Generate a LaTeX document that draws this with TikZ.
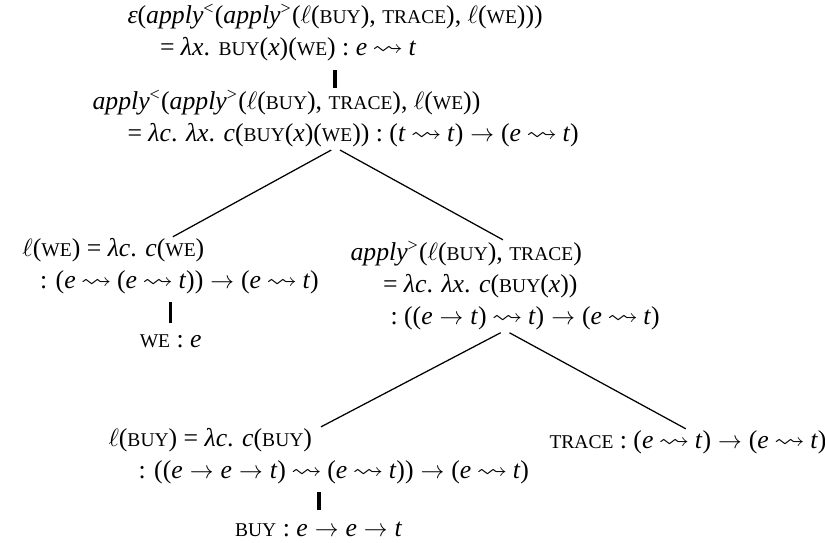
\documentclass[tikz,border=0pt]{standalone}
\usepackage{amssymb}
\usepackage{fontspec}
\setmainfont{Liberation Serif}
\usepackage{tikz}
\newcommand{\iv}[1]{\textit{#1}}
\newcommand{\fsc}[1]{{\fontsize{7.8}{9}\selectfont #1}}
\newcommand{\Buy}{\fsc{BUY}}
\newcommand{\We}{\fsc{WE}}
\newcommand{\Trace}{\fsc{TRACE}}
\newcommand{\App}{\iv{apply}}
\newcommand{\Ell}{$\ell$}
\newcommand{\lto}{\hspace{2.1pt}\scalebox{1.2}[1]{$\leadsto$}\hspace{2.1pt}}
\newcommand{\ar}{\hspace{2.8pt}\scalebox{0.95}[1]{$\rightarrow$}\hspace{2.8pt}}
\begin{document}
\begin{tikzpicture}[
  x=0.4pt,y=-0.4pt,
  lbl/.style={anchor=north west,inner sep=0pt,align=left,font=\fontsize{10.3}{12.7}\selectfont},
  leaf/.style={lbl,anchor=north},
  edge/.style={line width=.5pt,shorten <=2pt,shorten >=1pt},
  unary/.style={line width=1.4pt,shorten <=3pt,shorten >=4.5pt}
]
\useasboundingbox (0,0) rectangle (825,542);
\node[lbl] (root) at (127,4)
  {\iv{ε}(\App\textsuperscript{<}(\App\textsuperscript{>}(\Ell(\Buy), \Trace), \Ell(\We)))\\
   \hspace*{13pt}= \iv{λx}. \Buy(\iv{x})(\We) : \iv{e}\lto\iv{t}};
\node[lbl] (appl) at (92,90)
  {\App\textsuperscript{<}(\App\textsuperscript{>}(\Ell(\Buy), \Trace), \Ell(\We))\\
   \hspace*{14pt}= \iv{λc}. \iv{λx}. \iv{c}(\Buy(\iv{x})(\We)) : (\iv{t}\lto\iv{t})\ar(\iv{e}\lto\iv{t})};
\node[lbl] (lwe) at (22,238)
  {\Ell(\We) = \iv{λc}. \iv{c}(\We)\\
   \hspace*{7pt}: (\iv{e}\lto(\iv{e}\lto\iv{t}))\ar(\iv{e}\lto\iv{t})};
\node[leaf] (we) at (lwe.south |- 0,334) {\We{} : \iv{e}};
\node[lbl] (appr) at (350,241)
  {\App\textsuperscript{>}(\Ell(\Buy), \Trace)\\
   \hspace*{13pt}= \iv{λc}. \iv{λx}. \iv{c}(\Buy(\iv{x}))\\
   \hspace*{16pt}:\ ((\iv{e}\ar\iv{t})\lto\iv{t})\ar(\iv{e}\lto\iv{t})};
\node[lbl] (lbuy) at (108,428)
  {\Ell(\Buy) = \iv{λc}. \iv{c}(\Buy)\\
   \hspace*{12pt}: ((\iv{e}\ar\iv{e}\ar\iv{t})\lto(\iv{e}\lto\iv{t}))\ar(\iv{e}\lto\iv{t})};
\node[leaf] (buy) at (lbuy.south |- 0,521) {\Buy{} : \iv{e}\ar\iv{e}\ar\iv{t}};
\node[lbl] (trace) at (549,430) {\Trace{} : (\iv{e}\lto\iv{t})\ar(\iv{e}\lto\iv{t})};
\draw[unary,shorten <=3.5pt,shorten >=1pt] (root.south) -- (root.south |- appl.north);
\draw[edge] (appl.south) -- (lwe.north);
\draw[edge] (appl.south) -- (appr.north);
\draw[unary] (lwe.south) -- (we.north);
\draw[edge] (appr.south) -- (lbuy.north);
\draw[edge] (appr.south) -- (trace.north);
\draw[unary] (lbuy.south) -- (buy.north);
\end{tikzpicture}
\end{document}
